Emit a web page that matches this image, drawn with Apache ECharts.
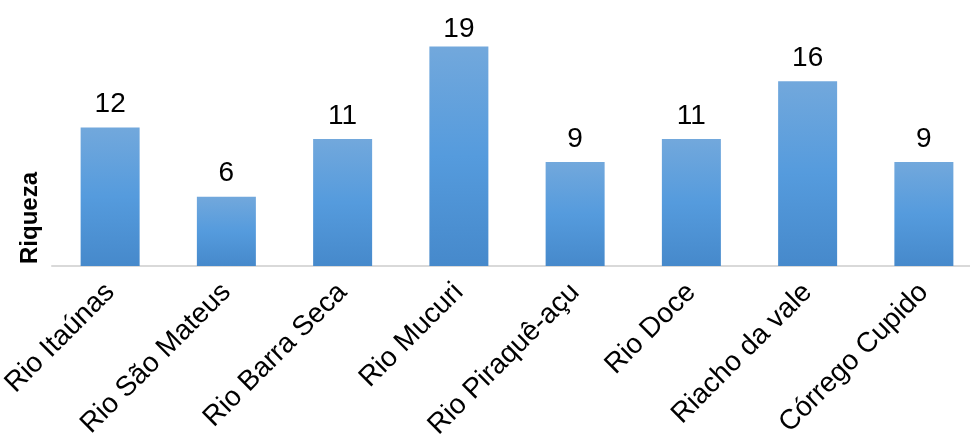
<!DOCTYPE html>
<html>
<head>
<meta charset="utf-8">
<script src="https://cdn.jsdelivr.net/npm/echarts@6/dist/echarts.min.js"></script>
<style>
html,body{margin:0;padding:0;background:#fff;overflow:hidden;width:970px;height:437px;}
#chart{width:982px;height:437px;}
</style>
</head>
<body>
<div id="chart"></div>
<script>
const categories = ['Rio Itaúnas','Rio São Mateus','Rio Barra Seca','Rio Mucuri','Rio Piraquê-açu','Rio Doce','Riacho da vale','Córrego Cupido'];
const riqueza = [12, 6, 11, 19, 9, 11, 16, 9];
const yAxisTitle = 'Riqueza';
const yMax = 20;

// labels near the plot top are pulled closer to their bar (as in the reference)
const barData = riqueza.map(v => v > 18 ? { value: v, label: { distance: 3 } } : v);

const chart = echarts.init(document.getElementById('chart'));
chart.setOption({
  animation: false,
  backgroundColor: '#ffffff',
  grid: { left: 52, top: 35, width: 930, height: 231, outerBoundsMode: 'none', containLabel: false },
  xAxis: {
    type: 'category',
    data: categories,
    axisLine: { show: true, lineStyle: { color: '#D9D9D9', width: 2 } },
    axisTick: { show: false },
    axisLabel: {
      rotate: 45, margin: 22, fontSize: 28, color: '#000',
      fontFamily: 'Liberation Sans, Arial, sans-serif', interval: 0
    }
  },
  yAxis: {
    type: 'value', min: 0, max: yMax,
    show: false, splitLine: { show: false }
  },
  graphic: [{
    type: 'text', x: 30, y: 218, rotation: Math.PI / 2,
    style: {
      text: yAxisTitle, fontSize: 24, fontWeight: 'bold', fill: '#000',
      fontFamily: 'Liberation Sans, Arial, sans-serif',
      align: 'center', verticalAlign: 'middle'
    }
  }],
  series: [{
    type: 'bar',
    data: barData,
    barWidth: 59,
    itemStyle: {
      color: new echarts.graphic.LinearGradient(0, 0, 0, 1, [
        { offset: 0, color: '#72A8DC' },
        { offset: 0.5, color: '#559BDD' },
        { offset: 1, color: '#4689CB' }
      ])
    },
    label: {
      show: true, position: 'top', distance: 9, fontSize: 28, color: '#000',
      fontFamily: 'Liberation Sans, Arial, sans-serif'
    }
  }]
});
</script>
</body>
</html>
